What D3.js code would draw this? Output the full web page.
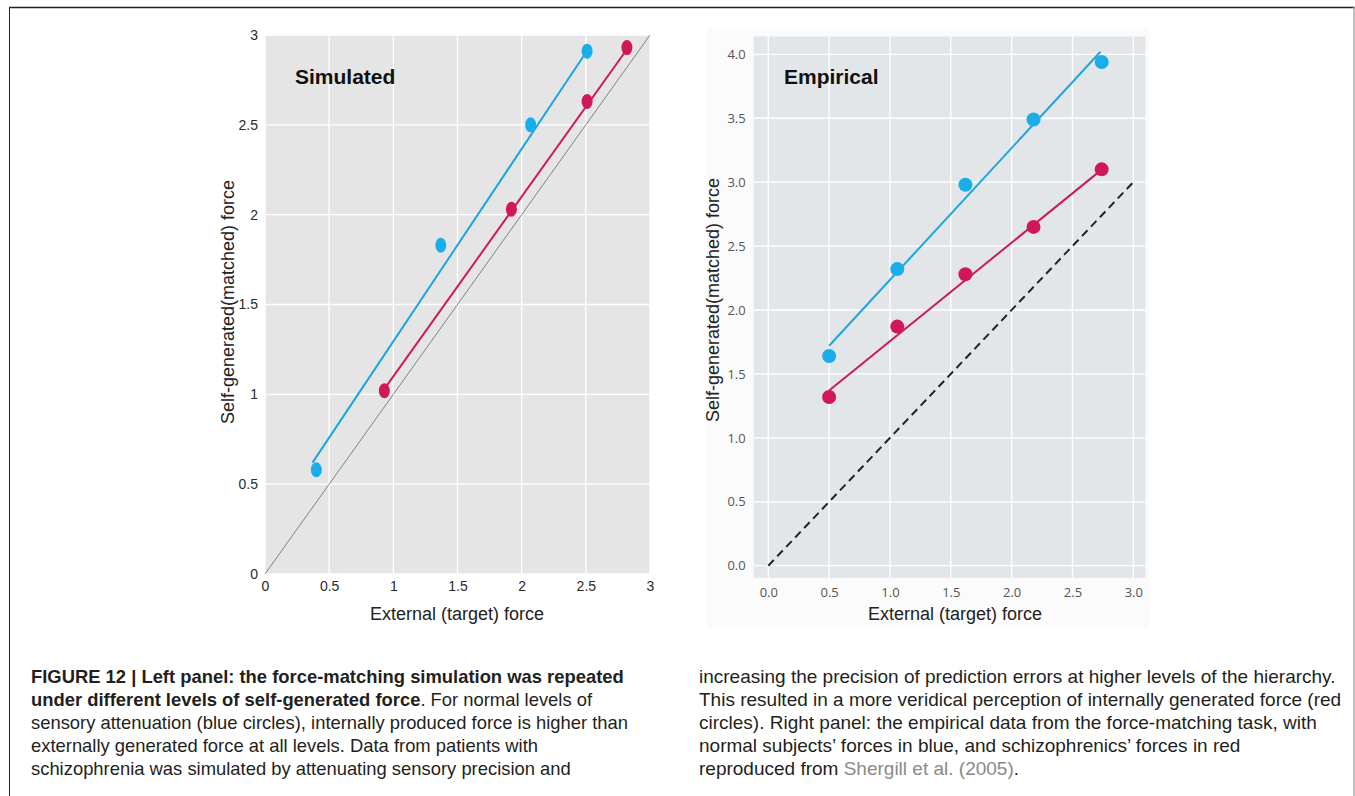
<!DOCTYPE html>
<meta charset="utf-8">
<script src="https://d3js.org/d3.v7.min.js"></script>
<style>
  body { margin: 0; background: #fff; }
  svg { display: block; }
</style>
<div id="fig"></div>
<script>
// ---- data ----
// Simulated panel (left)
const simNormalX = [0.40, 1.37, 2.07, 2.51];
const simNormalY = [0.58, 1.83, 2.50, 2.91];
const simPatientX = [0.93, 1.92, 2.51, 2.82];
const simPatientY = [1.02, 2.03, 2.63, 2.93];
const simNormalFit = [[0.37, 0.62], [2.48, 2.88]];
const simPatientFit = [[0.95, 1.05], [2.80, 2.90]];
const simTicks = [0, 0.5, 1, 1.5, 2, 2.5, 3];

// Empirical panel (right)
const empX = [0.50, 1.06, 1.62, 2.18, 2.74];
const empNormalY = [1.64, 2.32, 2.98, 3.49, 3.94];
const empPatientY = [1.32, 1.87, 2.28, 2.65, 3.10];
const empNormalFit = [[0.50, 1.72], [2.73, 4.02]];
const empPatientFit = [[0.50, 1.37], [2.73, 3.09]];
const empXTicks = [0, 0.5, 1, 1.5, 2, 2.5, 3];
const empYTicks = [0, 0.5, 1, 1.5, 2, 2.5, 3, 3.5, 4];
const identity = [[0, 0], [3, 3]];

const blue = "#19aeea", blueLine = "#1ea6dc";
const red = "#d1175b", redLine = "#c91c58";
const sans = "Liberation Sans, Arial, sans-serif";

const svg = d3.select("#fig").append("svg")
    .attr("width", 1355)
    .attr("height", 796);

// frame round the figure
svg.append("line").attr("x1", 9).attr("x2", 1355).attr("y1", 7.5).attr("y2", 7.5)
    .attr("stroke", "#222").attr("stroke-width", 1.5);
svg.append("line").attr("x1", 9.5).attr("x2", 9.5).attr("y1", 7).attr("y2", 796)
    .attr("stroke", "#222").attr("stroke-width", 1);
svg.append("line").attr("x1", 1354).attr("x2", 1354).attr("y1", 7).attr("y2", 796)
    .attr("stroke", "#aaa").attr("stroke-width", 1.5);

// ================= LEFT: Simulated =================
const xs = d3.scaleLinear().domain([0, 3]).range([265, 650]);
const ys = d3.scaleLinear().domain([0, 3]).range([574, 35]);
const left = svg.append("g");

left.append("rect")
    .attr("x", xs(0)).attr("y", ys(3))
    .attr("width", xs(3) - xs(0)).attr("height", ys(0) - ys(3))
    .attr("fill", "#e5e5e5");

left.append("g").selectAll("line").data(simTicks).join("line")
    .attr("x1", d => xs(d)).attr("x2", d => xs(d))
    .attr("y1", ys(0)).attr("y2", ys(3))
    .attr("stroke", "#fff").attr("stroke-width", 1.3);
left.append("g").selectAll("line").data(simTicks).join("line")
    .attr("x1", xs(0)).attr("x2", xs(3))
    .attr("y1", d => ys(d)).attr("y2", d => ys(d))
    .attr("stroke", "#fff").attr("stroke-width", 1.3);

// axes (labels only, ggplot-like)
const lxAxis = left.append("g").attr("transform", `translate(0,${ys(0) + 6})`)
    .call(d3.axisBottom(xs).tickValues(simTicks).tickSize(0).tickFormat(d3.format("")));
const lyAxis = left.append("g").attr("transform", `translate(${xs(0) - 4},0)`)
    .call(d3.axisLeft(ys).tickValues(simTicks).tickSize(0).tickFormat(d3.format("")));
[lxAxis, lyAxis].forEach(a => {
  a.select(".domain").remove();
  a.selectAll("text").attr("font-family", sans)
      .attr("font-size", 14).attr("fill", "#2a2a2a");
});
lxAxis.selectAll("text").attr("dy", "0.6em");

// identity line
const line = d3.line().x(d => xs(d[0])).y(d => ys(d[1]));
left.append("path").datum(identity).attr("d", line)
    .attr("fill", "none").attr("stroke", "#555").attr("stroke-width", 0.7);

left.append("path").datum(simNormalFit).attr("d", line)
    .attr("fill", "none").attr("stroke", blueLine).attr("stroke-width", 2);
left.append("path").datum(simPatientFit).attr("d", line)
    .attr("fill", "none").attr("stroke", redLine).attr("stroke-width", 2);

left.append("g").selectAll("ellipse").data(d3.zip(simNormalX, simNormalY)).join("ellipse")
    .attr("cx", d => xs(d[0])).attr("cy", d => ys(d[1]))
    .attr("rx", 5.5).attr("ry", 7.5).attr("fill", blue);
left.append("g").selectAll("ellipse").data(d3.zip(simPatientX, simPatientY)).join("ellipse")
    .attr("cx", d => xs(d[0])).attr("cy", d => ys(d[1]))
    .attr("rx", 5.5).attr("ry", 7.5).attr("fill", red);

left.append("text").attr("x", 295).attr("y", 84)
    .attr("font-family", sans)
    .attr("font-size", 21).attr("font-weight", "bold").attr("fill", "#111")
    .text("Simulated");

left.append("text")
    .attr("transform", `translate(234,302) rotate(-90)`)
    .attr("text-anchor", "middle")
    .attr("font-family", sans)
    .attr("font-size", 18).attr("fill", "#222")
    .text("Self-generated(matched) force");
left.append("text").attr("x", 457).attr("y", 620)
    .attr("text-anchor", "middle")
    .attr("font-family", sans)
    .attr("font-size", 18).attr("fill", "#222")
    .text("External (target) force");

// ================= RIGHT: Empirical =================
const xe = d3.scaleLinear().domain([0, 3]).range([768.3, 1133.3]);
const ye = d3.scaleLinear().domain([0, 4]).range([565.7, 54.3]);
const right = svg.append("g");

right.append("rect")
    .attr("x", 707).attr("y", 28).attr("width", 442).attr("height", 600)
    .attr("fill", "#fbfbfb");
right.append("rect")
    .attr("x", xe(-0.12)).attr("y", ye(4.14))
    .attr("width", xe(3.1) - xe(-0.12)).attr("height", ye(-0.095) - ye(4.14))
    .attr("fill", "#e3e6e9");

right.append("g").selectAll("line").data(empXTicks).join("line")
    .attr("x1", d => xe(d)).attr("x2", d => xe(d))
    .attr("y1", ye(-0.095)).attr("y2", ye(4.14))
    .attr("stroke", "#fff").attr("stroke-width", 1.3);
right.append("g").selectAll("line").data(empYTicks).join("line")
    .attr("x1", xe(-0.12)).attr("x2", xe(3.1))
    .attr("y1", d => ye(d)).attr("y2", d => ye(d))
    .attr("stroke", "#fff").attr("stroke-width", 1.3);

const rxAxis = right.append("g").attr("transform", `translate(0,${ye(-0.095) + 6})`)
    .call(d3.axisBottom(xe).tickValues(empXTicks).tickSize(0).tickFormat(d3.format(".1f")));
const ryAxis = right.append("g").attr("transform", `translate(${xe(-0.12) - 5},0)`)
    .call(d3.axisLeft(ye).tickValues(empYTicks).tickSize(0).tickFormat(d3.format(".1f")));
[rxAxis, ryAxis].forEach(a => {
  a.select(".domain").remove();
  a.selectAll("text").attr("font-family", "Open Sans, DejaVu Sans, sans-serif")
      .attr("font-size", 13).attr("fill", "#555");
});
rxAxis.selectAll("text").attr("dy", "0.75em");

const lineE = d3.line().x(d => xe(d[0])).y(d => ye(d[1]));
right.append("path").datum(identity).attr("d", lineE)
    .attr("fill", "none").attr("stroke", "#222").attr("stroke-width", 2)
    .attr("stroke-dasharray", "8,5");

right.append("path").datum(empNormalFit).attr("d", lineE)
    .attr("fill", "none").attr("stroke", blueLine).attr("stroke-width", 2);
right.append("path").datum(empPatientFit).attr("d", lineE)
    .attr("fill", "none").attr("stroke", redLine).attr("stroke-width", 2);

right.append("g").selectAll("circle").data(d3.zip(empX, empNormalY)).join("circle")
    .attr("cx", d => xe(d[0])).attr("cy", d => ye(d[1]))
    .attr("r", 7).attr("fill", blue);
right.append("g").selectAll("circle").data(d3.zip(empX, empPatientY)).join("circle")
    .attr("cx", d => xe(d[0])).attr("cy", d => ye(d[1]))
    .attr("r", 7).attr("fill", red);

right.append("text").attr("x", 784).attr("y", 84)
    .attr("font-family", sans)
    .attr("font-size", 21).attr("font-weight", "bold").attr("fill", "#111")
    .text("Empirical");

right.append("text")
    .attr("transform", `translate(719,300) rotate(-90)`)
    .attr("text-anchor", "middle")
    .attr("font-family", sans)
    .attr("font-size", 18).attr("fill", "#222")
    .text("Self-generated(matched) force");
right.append("text").attr("x", 955).attr("y", 620)
    .attr("text-anchor", "middle")
    .attr("font-family", sans)
    .attr("font-size", 18).attr("fill", "#222")
    .text("External (target) force");

// ================= caption =================
const captionLeft = [
  [["FIGURE 12 | Left panel: the force-matching simulation was repeated", "b"]],
  [["under different levels of self-generated force", "b"], [". For normal levels of", "n"]],
  [["sensory attenuation (blue circles), internally produced force is higher than", "n"]],
  [["externally generated force at all levels. Data from patients with", "n"]],
  [["schizophrenia was simulated by attenuating sensory precision and", "n"]]
];
const captionRight = [
  [["increasing the precision of prediction errors at higher levels of the hierarchy.", "n"]],
  [["This resulted in a more veridical perception of internally generated force (red", "n"]],
  [["circles). Right panel: the empirical data from the force-matching task, with", "n"]],
  [["normal subjects\u2019 forces in blue, and schizophrenics\u2019 forces in red", "n"]],
  [["reproduced from ", "n"], ["Shergill et al. (2005)", "g"], [".", "n"]]
];

function caption(lines, x0, size) {
  const t = svg.append("text")
      .attr("font-family", "Liberation Sans Narrow, Arial Narrow, sans-serif")
      .attr("font-size", size).attr("fill", "#231f20");
  lines.forEach((segs, i) => {
    segs.forEach((s, j) => {
      const ts = t.append("tspan").text(s[0])
          .attr("font-weight", s[1] === "b" ? "bold" : "normal")
          .attr("fill", s[1] === "g" ? "#8a8a8a" : "#231f20");
      if (j === 0) ts.attr("x", x0).attr("y", 683 + i * 23);
    });
  });
}
caption(captionLeft, 31, 18.4);
caption(captionRight, 699, 19);
</script>
